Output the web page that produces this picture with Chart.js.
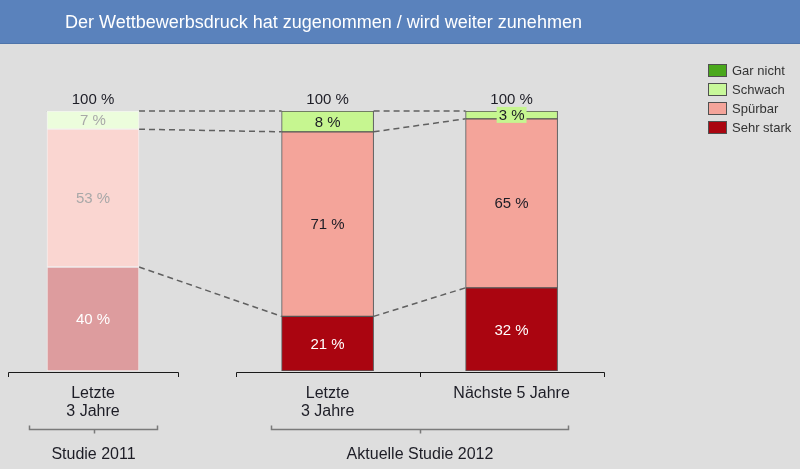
<!DOCTYPE html>
<html><head><meta charset="utf-8">
<script src="https://cdn.jsdelivr.net/npm/chart.js@4.4.1/dist/chart.umd.min.js"></script>
<style>html,body{margin:0;padding:0;background:#dedede;} canvas{display:block;}</style>
</head><body>
<canvas id="c" width="800" height="469"></canvas>
<script>
// ---------- data ----------
const title = "Der Wettbewerbsdruck hat zugenommen / wird weiter zunehmen";
const categories = [["Letzte", "3 Jahre"], ["Letzte", "3 Jahre"], ["Nächste 5 Jahre"]];
const groups = ["Studie 2011", "Aktuelle Studie 2012"];
const groupOfBar = [0, 1, 1];
const sehrStark = [40, 21, 32];
const spuerbar = [53, 71, 65];
const schwach = [7, 8, 3];
const garNicht = [0, 0, 0];

// ---------- layout (axis units, not data) ----------
const barSlots = [0, 2.55, 4.55];
const bracketHalf = [0.92, 1.0];
const groupHalf = [0.70, 0.61];

const FONT = '"Liberation Sans", Arial, Helvetica, sans-serif';
const TEXT = '#1d1d26';

const common = { borderWidth: 1, borderSkipped: false, barThickness: 92 };
const datasets = [
  Object.assign({ label: 'Sehr stark', data: sehrStark,
    backgroundColor: ['#dd9c9e', '#aa0510', '#aa0510'],
    borderColor: ['#eeeaea', '#555555', '#555555'],
    labelColors: ['#ffffff', '#ffffff', '#ffffff'], legendColor: '#aa0510' }, common),
  Object.assign({ label: 'Spürbar', data: spuerbar,
    backgroundColor: ['#fad6d1', '#f4a49a', '#f4a49a'],
    borderColor: ['#f3eeee', '#555555', '#555555'],
    labelColors: ['#a8a8a8', TEXT, TEXT], legendColor: '#f4a49a' }, common),
  Object.assign({ label: 'Schwach', data: schwach,
    backgroundColor: ['#ecfddc', '#c6f690', '#c6f690'],
    borderColor: ['#f3f3f0', '#555555', '#555555'],
    labelColors: ['#a8a8a8', TEXT, TEXT], legendColor: '#c8f89a' }, common),
  Object.assign({ label: 'Gar nicht', data: garNicht,
    backgroundColor: '#4aa81c', borderColor: '#555555',
    labelColors: [TEXT, TEXT, TEXT], legendColor: '#4aa81c' }, common, { borderWidth: 0 })
];

function props(el) { return el.getProps(['x', 'y', 'base', 'width'], true); }

const decor = {
  id: 'decor',
  beforeDraw(chart) {
    const { ctx, width, height } = chart;
    ctx.save();
    ctx.fillStyle = '#dedede'; ctx.fillRect(0, 0, width, height);
    ctx.fillStyle = '#5a82bc'; ctx.fillRect(0, 0, width, 44);
    ctx.fillStyle = '#4e74aa'; ctx.fillRect(0, 43, width, 1);
    ctx.fillStyle = '#ffffff'; ctx.font = '18px ' + FONT;
    ctx.textBaseline = 'alphabetic'; ctx.textAlign = 'left';
    ctx.fillText(title, 65, 28);
    ctx.restore();
  },
  beforeDatasetsDraw(chart) {
    const { ctx } = chart;
    ctx.save();
    ctx.strokeStyle = '#606060'; ctx.lineWidth = 1.5; ctx.setLineDash([6, 4]);
    for (let d = 0; d < 3; d++) {
      const meta = chart.getDatasetMeta(d);
      for (let i = 0; i < meta.data.length - 1; i++) {
        const a = props(meta.data[i]), b = props(meta.data[i + 1]);
        ctx.beginPath();
        ctx.moveTo(a.x + a.width / 2, a.y);
        ctx.lineTo(b.x - b.width / 2, b.y);
        ctx.stroke();
      }
    }
    ctx.restore();
  },
  afterDatasetsDraw(chart) {
    const { ctx } = chart;
    ctx.save();
    ctx.font = '15px ' + FONT; ctx.textAlign = 'center'; ctx.textBaseline = 'middle';
    chart.data.datasets.forEach((ds, d) => {
      const meta = chart.getDatasetMeta(d);
      meta.data.forEach((el, i) => {
        const v = ds.data[i];
        if (!v) return;
        const p = props(el);
        const cy = (p.y + p.base) / 2;
        const txt = v + ' %';
        if (Math.abs(p.base - p.y) < 15) {
          const w = ctx.measureText(txt).width + 4;
          ctx.fillStyle = ds.backgroundColor[i];
          ctx.fillRect(p.x - w / 2, cy - 8, w, 16);
        }
        ctx.fillStyle = ds.labelColors[i];
        ctx.fillText(txt, p.x, cy + 1);
      });
    });
    // totals
    const n = chart.data.labels.length;
    const topMeta = chart.getDatasetMeta(2);
    for (let i = 0; i < n; i++) {
      let total = 0;
      chart.data.datasets.forEach(ds => total += ds.data[i]);
      const p = props(topMeta.data[i]);
      ctx.fillStyle = TEXT;
      ctx.fillText(total + ' %', p.x, p.y - 11);
    }
    ctx.restore();
  },
  afterDraw(chart) {
    const { ctx, chartArea } = chart;
    const xs = chart.scales.x;
    ctx.save();
    // category labels (x axis)
    ctx.font = '16px ' + FONT; ctx.textAlign = 'center'; ctx.textBaseline = 'middle';
    ctx.fillStyle = TEXT;
    categories.forEach((lines, i) => {
      const x = xs.getPixelForValue(barSlots[i]);
      lines.forEach((t, k) => ctx.fillText(t, x, chartArea.bottom + 23 + k * 18));
    });
    // bar-level brackets
    const yb = chartArea.bottom + 1;
    ctx.strokeStyle = '#1a1a1a'; ctx.lineWidth = 1;
    groups.forEach((g, gi) => {
      const idx = groupOfBar.map((x, i) => x === gi ? i : -1).filter(i => i >= 0);
      const l = Math.round(xs.getPixelForValue(barSlots[idx[0]] - bracketHalf[gi])) + 0.5;
      const r = Math.round(xs.getPixelForValue(barSlots[idx[idx.length - 1]] + bracketHalf[gi])) + 0.5;
      ctx.beginPath();
      ctx.moveTo(l, yb + 5); ctx.lineTo(l, yb + 0.5); ctx.lineTo(r, yb + 0.5); ctx.lineTo(r, yb + 5);
      for (let k = 0; k < idx.length - 1; k++) {
        const m = Math.round(xs.getPixelForValue((barSlots[idx[k]] + barSlots[idx[k + 1]]) / 2)) + 0.5;
        ctx.moveTo(m, yb + 0.5); ctx.lineTo(m, yb + 5);
      }
      ctx.stroke();
    });
    // group brackets
    const yg = chartArea.bottom + 58.5;
    ctx.strokeStyle = '#7a7a7a'; ctx.lineWidth = 1.5;
    groups.forEach((g, gi) => {
      const idx = groupOfBar.map((x, i) => x === gi ? i : -1).filter(i => i >= 0);
      const l = Math.round(xs.getPixelForValue(barSlots[idx[0]] - groupHalf[gi])) + 0.5;
      const r = Math.round(xs.getPixelForValue(barSlots[idx[idx.length - 1]] + groupHalf[gi])) + 0.5;
      const m = Math.round((l + r) / 2) + 0.5;
      ctx.beginPath();
      ctx.moveTo(l, yg - 4); ctx.lineTo(l, yg); ctx.lineTo(r, yg); ctx.lineTo(r, yg - 4);
      ctx.moveTo(m, yg); ctx.lineTo(m, yg + 4);
      ctx.stroke();
      ctx.fillStyle = TEXT;
      ctx.fillText(g, (l + r) / 2, chartArea.bottom + 84);
    });
    // legend
    const items = chart.data.datasets.slice().reverse();
    ctx.font = '13px ' + FONT; ctx.textAlign = 'left'; ctx.textBaseline = 'middle';
    items.forEach((ds, k) => {
      const y = 64 + k * 19;
      ctx.fillStyle = ds.legendColor; ctx.fillRect(708, y, 19, 13);
      ctx.strokeStyle = '#505050'; ctx.lineWidth = 1; ctx.strokeRect(708.5, y + 0.5, 18, 12);
      ctx.fillStyle = '#333333'; ctx.fillText(ds.label, 732, y + 7);
    });
    ctx.restore();
  }
};

new Chart(document.getElementById('c'), {
  type: 'bar',
  data: { labels: barSlots, datasets },
  options: {
    responsive: false, devicePixelRatio: 1, animation: false,
    layout: { padding: { top: 111, left: 0, right: 0, bottom: 98 } },
    plugins: { legend: { display: false }, tooltip: { enabled: false }, title: { display: false } },
    scales: {
      x: { type: 'linear', display: false, offset: false, stacked: true, bounds: 'data', min: -1.011, max: 7.685 },
      y: { stacked: true, min: 0, max: 100, display: false }
    }
  },
  plugins: [decor]
});
</script>
</body></html>
